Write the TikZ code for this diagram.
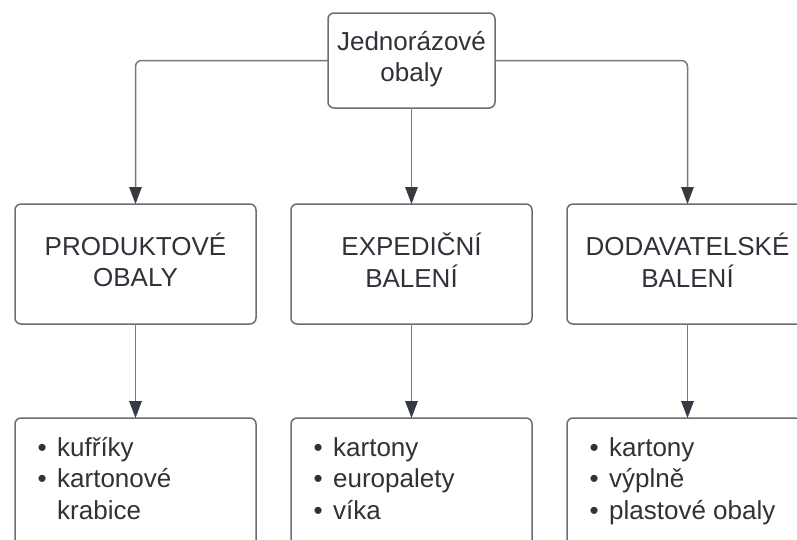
\documentclass[tikz,border=0pt]{standalone}
\usepackage{fontspec}
\setmainfont{Liberation Sans}
\usetikzlibrary{arrows.meta}

\definecolor{edgegray}{HTML}{6A6E74}
\definecolor{linegray}{HTML}{74787F}
\definecolor{tipdark}{HTML}{363A43}
\definecolor{inkgray}{HTML}{2F3238}

\tikzset{
  box/.style={draw=edgegray, line width=1.5pt, rounded corners=6pt, fill=white,
    minimum width=241pt, minimum height=120pt, inner sep=0pt, outer sep=0pt},
  headbox/.style={box, minimum width=167pt, minimum height=95pt},
  leafbox/.style={box, minimum height=150pt},
  lbl/.style={text=inkgray, font=\fontsize{26}{31.5}\selectfont, inner sep=0pt},
  link/.style={draw=linegray, line width=1.5pt, rounded corners=6pt},
  conn/.style={link, -{Triangle[length=17pt,width=12.5pt,color=tipdark,fill=tipdark]}}
}

% bullet item with a fixed hanging indent
\newcommand{\bulletitem}[1]{\makebox[19.5pt][l]{\textbullet}#1}

\begin{document}
\begin{tikzpicture}[x=1pt, y=-1pt]
  \useasboundingbox (0,0) rectangle (797,539);
  \clip (0,0) rectangle (797,539);

  % boxes
  \node[headbox] (top) at (411.5,60.5) {};
  \node[box] (pL) at (135.5,264) {};
  \node[box] (pM) at (411.5,264) {};
  \node[box] (pR) at (687.5,264) {};
  \node[leafbox] (lL) at (135.5,493) {};
  \node[leafbox] (lM) at (411.5,493) {};
  \node[leafbox] (lR) at (687.5,493) {};

  % box texts
  \node[lbl, anchor=base] (tTop) at ([yshift=-37pt]top.north)
    {\begin{tabular}[t]{@{}c@{}}Jednorázové\\obaly\end{tabular}};
  \node[lbl, anchor=base] (tL) at ([yshift=-51pt]pL.north)
    {\begin{tabular}[t]{@{}c@{}}PRODUKTOVÉ\\OBALY\end{tabular}};
  \node[lbl, anchor=base] (tM) at ([yshift=-51pt]pM.north)
    {\begin{tabular}[t]{@{}c@{}}EXPEDIČNÍ\\BALENÍ\end{tabular}};
  \node[lbl, anchor=base] (tR) at ([yshift=-51pt]pR.north)
    {\begin{tabular}[t]{@{}c@{}}DODAVATELSKÉ\\BALENÍ\end{tabular}};

  % bullet lists
  \node[lbl, anchor=base west] (bL) at ([xshift=22.5pt,yshift=-38pt]lL.north west)
    {\begin{tabular}[t]{@{}l@{}}\bulletitem{kufříky}\\\bulletitem{kartonové}\\\hspace*{19.5pt}krabice\end{tabular}};
  \node[lbl, anchor=base west] (bM) at ([xshift=22.5pt,yshift=-38pt]lM.north west)
    {\begin{tabular}[t]{@{}l@{}}\bulletitem{kartony}\\\bulletitem{europalety}\\\bulletitem{víka}\end{tabular}};
  \node[lbl, anchor=base west] (bR) at ([xshift=22.5pt,yshift=-38pt]lR.north west)
    {\begin{tabular}[t]{@{}l@{}}\bulletitem{kartony}\\\bulletitem{výplně}\\\bulletitem{plastové obaly}\end{tabular}};

  % connectors
  \draw[conn] (top.west) -- (pL.north |- top.west) -- (pL.north);
  \draw[conn] (top.south) -- (pM.north);
  \draw[conn] (top.east) -- (pR.north |- top.east) -- (pR.north);
  \draw[conn] (pL.south) -- (lL.north);
  \draw[conn] (pM.south) -- (lM.north);
  \draw[conn] (pR.south) -- (lR.north);
\end{tikzpicture}
\end{document}
